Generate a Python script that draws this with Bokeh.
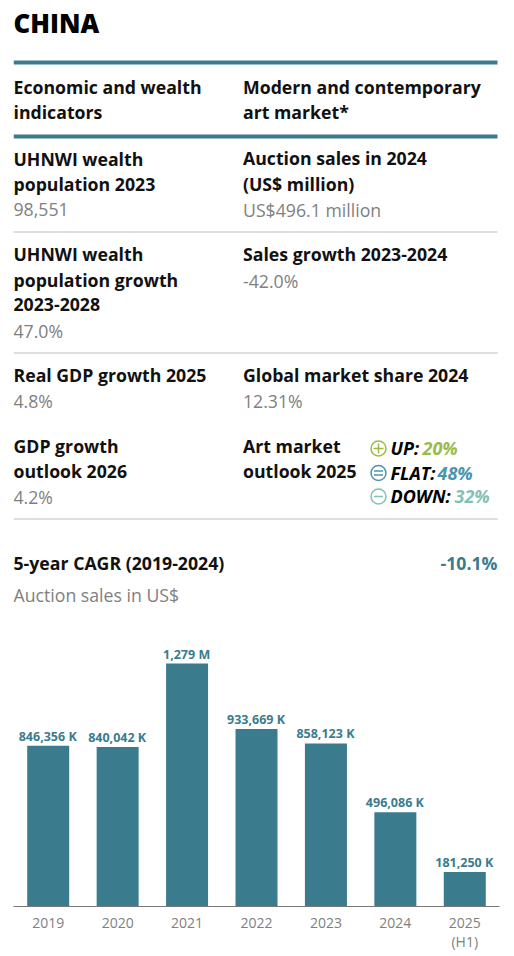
from bokeh.plotting import figure
from bokeh.layouts import column
from bokeh.models import FactorRange, Range1d, ColumnDataSource
from bokeh.core.properties import value
from bokeh.embed import file_html
from bokeh.resources import INLINE

FONT = "Open Sans"
TEAL = "#3a7c8e"
GREY = "#808080"

title = "CHINA"
col_heads = ["Economic and wealth", "indicators", "Modern and contemporary", "art market*"]
left_labels = ["UHNWI wealth", "population 2023", "UHNWI wealth", "population growth", "2023-2028",
               "Real GDP growth 2025", "GDP growth", "outlook 2026"]
left_values = ["98,551", "47.0%", "4.8%", "4.2%"]
right_labels = ["Auction sales in 2024", "(US$ million)", "Sales growth 2023-2024",
                "Global market share 2024", "Art market", "outlook 2025"]
right_values = ["US$496.1 million", "-42.0%", "12.31%"]
outlook_names = ["UP:", "FLAT:", "DOWN:"]
outlook_values = ["20%", "48%", "32%"]
outlook_colors = ["#9abb45", "#4a94ad", "#84c0b4"]
cagr_label = "5-year CAGR (2019-2024)"
cagr_value = "-10.1%"
sub_label = "Auction sales in US$"

years = ["2019", "2020", "2021", "2022", "2023", "2024", "2025"]
last_year_note = "(H1)"
sales_k = [846356, 840042, 1279000, 933669, 858123, 496086, 181250]
sales_labels = ["846,356 K", "840,042 K", "1,279 M", "933,669 K", "858,123 K", "496,086 K", "181,250 K"]

# ---------- header: a plain pixel canvas whose coordinates follow the page ----------
W = 514
H_BOTTOM = 620
BL, BR = 13, 15
head = figure(width=W, height=H_BOTTOM, output_backend="svg", toolbar_location=None,
              x_range=Range1d(BL, W - BR), y_range=Range1d(H_BOTTOM, 0),
              min_border_left=BL, min_border_right=BR, min_border_top=0, min_border_bottom=0)
head.xaxis.visible = False
head.yaxis.visible = False
head.grid.visible = False
head.outline_line_color = None

SZ = 17.7


def put(x, y, text, color="#111111", size=SZ, style="bold", align="left", font=FONT):
    head.text([x], [y - 1], text=[text], text_color=color, text_font=value(font), text_font_size=f"{size}px",
              text_font_style=style, text_align=align, text_baseline="middle")


def rule(y, color="#bdbdbd", w=1.2):
    head.segment([13], [y], [497], [y], line_color=color, line_width=w)


LX, RX = 13, 242.5
put(LX, 23, title, color="#000000", size=25.8, font="Open Sans ExtraBold", style="normal")
rule(62, TEAL, 4)
rule(136, TEAL, 4)
for r in (231.5, 352.5, 518.5):
    rule(r)

put(LX, 87, col_heads[0]); put(LX, 112, col_heads[1])
put(RX, 87, col_heads[2]); put(RX, 112, col_heads[3])

for y, t in zip((159, 184, 254, 280, 305, 375, 446, 471), left_labels):
    put(LX, y, t)
for y, t in zip((210, 331, 401, 497), left_values):
    put(LX, y, t, color=GREY, style="normal")
for y, t in zip((158, 184, 254, 375, 446, 471), right_labels):
    put(RX, y, t)
for y, t in zip((210, 281, 401), right_values):
    put(RX, y, t, color=GREY, style="normal")

# outlook block
IX, NX = 378, 390
rows_y = (448, 472.5, 496)
VX = (422, 437, 454)
for y, n, v, c, vx in zip(rows_y, outlook_names, outlook_values, outlook_colors, VX):
    head.scatter([IX], [y], size=15, marker="circle", fill_color=None, line_color=c, line_width=1.5)
    put(NX, y + 0.5, n, color="#000000", size=18, style="bold italic")
    put(vx, y + 0.5, v, color=c, size=18, style="bold italic")
head.scatter([IX], [rows_y[0]], size=10, marker="cross", line_color=outlook_colors[0], line_width=1.5)
head.scatter([IX], [rows_y[1] - 2], size=9, marker="dash", line_color=outlook_colors[1], line_width=1.5)
head.scatter([IX], [rows_y[1] + 2], size=9, marker="dash", line_color=outlook_colors[1], line_width=1.5)
head.scatter([IX], [rows_y[2]], size=9, marker="dash", line_color=outlook_colors[2], line_width=1.5)

put(LX, 563, cagr_label)
put(497, 563, cagr_value, color=TEAL, align="right")
put(LX, 595, sub_label, color=GREY, style="normal")

# ---------- bar chart ----------
PX_PER_K = 243 / 1279000
PLOT_H = 286
BOTTOM = 25
FOOT_H = 956 - H_BOTTOM - PLOT_H - BOTTOM
src = ColumnDataSource(dict(year=years, sales=sales_k, label=sales_labels))
x_range = FactorRange(factors=years, range_padding=0)
chart = figure(width=W, height=PLOT_H + BOTTOM, output_backend="svg", toolbar_location=None,
               x_range=x_range, y_range=Range1d(0, PLOT_H / PX_PER_K),
               min_border_left=BL, min_border_right=BR, min_border_top=0, min_border_bottom=BOTTOM)
chart.vbar(x="year", top="sales", width=0.605, source=src, fill_color=TEAL, line_color=None)
chart.text(x="year", y="sales", text="label", source=src, text_color=TEAL, text_font=value(FONT),
           text_font_size="12.5px", text_font_style="bold", text_align="center",
           text_baseline="bottom", y_offset=-1, x_offset=-0.5)
chart.grid.visible = False
chart.outline_line_color = None
chart.yaxis.visible = False
xa = chart.xaxis[0]
xa.axis_line_color = "#777777"
xa.axis_line_width = 1
xa.major_tick_line_color = None
xa.minor_tick_line_color = None
xa.major_label_text_font = FONT
xa.major_label_text_font_size = "14px"
xa.major_label_text_color = GREY
xa.major_label_standoff = 5

# second line of the last tick label, on the same categorical scale as the bars
foot = figure(width=W, height=FOOT_H, output_backend="svg", toolbar_location=None,
              x_range=x_range, y_range=Range1d(FOOT_H, 0),
              min_border_left=BL, min_border_right=BR, min_border_top=0, min_border_bottom=0)
foot.xaxis.visible = False
foot.yaxis.visible = False
foot.grid.visible = False
foot.outline_line_color = None
foot.text(x=[years[-1]], y=[9.5], text=[last_year_note], text_font=value(FONT), text_font_size="14px",
          text_color=GREY, text_align="center", text_baseline="middle")

page = column(head, chart, foot, spacing=0)
open("out.html", "w").write(file_html(page, INLINE))
